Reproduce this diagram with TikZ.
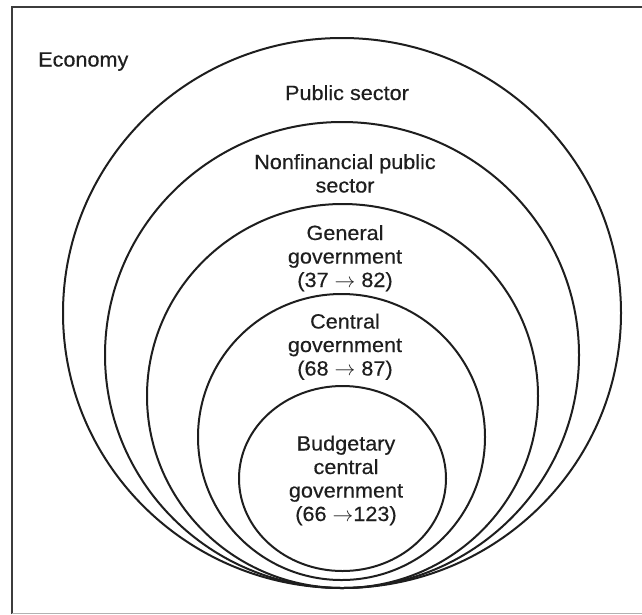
\documentclass[tikz,border=0pt]{standalone}
\usepackage{fontspec}
\setmainfont{Liberation Sans}[FakeStretch=1.05,FakeBold=0.4]
\definecolor{ink}{RGB}{30,30,30}
\definecolor{framec}{RGB}{60,60,60}
\begin{document}
\begin{tikzpicture}[x=1pt,y=-1pt,
  ring/.style={draw=ink,line width=2pt},
  lbl/.style={text=ink,inner sep=0pt,align=center,anchor=base,font=\fontsize{20.6}{23.5}\selectfont}]
\useasboundingbox (0,0) rectangle (642,614);
% frame
\draw[framec,line width=2.2pt] (11.9,614) -- (11.9,6.6) -- (642,6.6);
\draw[black!30,line width=1.4pt] (11.9,613.3) -- (642,613.3);
% nested sets
\draw[ring] (342,313) ellipse [x radius=279, y radius=275];
\draw[ring] (342,355) ellipse [x radius=237, y radius=233];
\draw[ring] (342.5,396) ellipse [x radius=195.5, y radius=192];
\draw[ring] (341.5,437) ellipse [x radius=143.5, y radius=143];
\draw[ring] (342.5,478.5) ellipse [x radius=103.5, y radius=92.5];
% labels (base anchor = baseline of the last line)
\node[lbl,anchor=base west] (economy) at (38,66.5) {Economy};
\node[lbl] (public) at (347,100) {Public sector};
\node[lbl] (nonfin) at (345,192.5) {Nonfinancial public\\sector};
\node[lbl] (general) at (345,287) {General\\government\\(37 $\rightarrow$ 82)};
\node[lbl] (central) at (345,375.5) {Central\\government\\(68 $\rightarrow$ 87)};
\node[lbl] (budget) at (346,521) {Budgetary\\central\\government\\(66 $\rightarrow$123)};
\end{tikzpicture}
\end{document}
